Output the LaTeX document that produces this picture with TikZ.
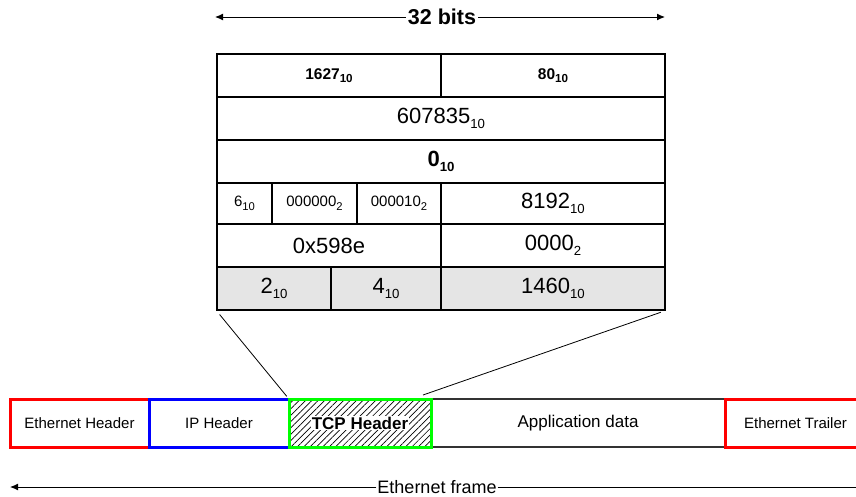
\documentclass[tikz,border=0pt]{standalone}
\usepackage{fontspec}
\setmainfont{Liberation Sans}
\usetikzlibrary{arrows.meta,patterns.meta}
\newcommand{\lo}[2][0.6]{\raisebox{-0.45ex}{\scalebox{#1}{#2}}}

\begin{document}
\begin{tikzpicture}[x=1pt, y=-1pt, >={Latex[length=8pt,width=7pt]},
cell/.style={draw, line width=1.2pt, inner sep=0pt, minimum height=43pt, font=\fontsize{22}{24}\selectfont},
small/.style={font=\fontsize{15}{17}\selectfont},
shade/.style={fill=gray!20},
layer/.style={draw, line width=3pt, inner sep=0pt, minimum height=48pt, font=\fontsize{15}{17}\selectfont},
link/.style={line width=0.8pt},
span/.style={->, line width=1pt}]
\useasboundingbox (0,0) rectangle (856,496);
\clip (0,0) rectangle (856,496);

\node[font=\bfseries\fontsize{21.5}{24}\selectfont, fill=white, inner sep=2pt] (bits) at (442,17) {32 bits};
\coordinate (bitsL) at (215,17);
\coordinate (bitsR) at (665,17);
\draw[span] (bits) -- (bitsL);
\draw[span] (bits) -- (bitsR);

\node[cell, minimum width=224pt, font=\bfseries\fontsize{15.5}{17}\selectfont] (srcport) at (329,75.5) {1627\lo[0.75]{10}};
\node[cell, minimum width=224pt, font=\bfseries\fontsize{15.5}{17}\selectfont] (dstport) at (553,75.5) {80\lo[0.75]{10}};
\node[cell, minimum width=448pt] (seqnum) at (441,118.5) {607835\lo{10}};
\node[cell, minimum width=448pt, font=\bfseries\fontsize{22}{24}\selectfont] (acknum) at (441,161.5) {0\lo{10}};
\node[cell, minimum width=55pt, minimum height=41pt, small] (offset) at (244.5,203.5) {6\lo[0.75]{10}};
\node[cell, minimum width=85pt, minimum height=41pt, small] (resvd) at (314.5,203.5) {000000\lo[0.75]{2}};
\node[cell, minimum width=84pt, minimum height=41pt, small] (flags) at (399,203.5) {000010\lo[0.75]{2}};
\node[cell, minimum width=224pt, minimum height=41pt] (window) at (553,203.5) {8192\lo{10}};
\node[cell, minimum width=224pt] (chksum) at (329,245.5) {0x598e};
\node[cell, minimum width=224pt] (urgptr) at (553,245.5) {0000\lo{2}};
\node[cell, shade, minimum width=114pt] (optkind) at (274,288.5) {2\lo{10}};
\node[cell, shade, minimum width=110pt] (optlen) at (386,288.5) {4\lo{10}};
\node[cell, shade, minimum width=224pt] (mss) at (553,288.5) {1460\lo{10}};

\node[draw=black!80, line width=1.2pt, inner sep=0pt, minimum width=294pt, minimum height=48pt, font=\fontsize{17}{19}\selectfont] (app) at (578,423) {Application data};
\node[layer, draw=red, minimum width=139pt] (ethh) at (79.5,423) {Ethernet Header};
\node[layer, draw=blue, minimum width=140pt] (iph) at (219,423) {IP Header};
\node[layer, draw=green, minimum width=142pt, pattern={Lines[angle=45,distance=4.5pt,line width=0.7pt]}] (tcph) at (360,423) {};
\node[fill=white, inner sep=1pt, font=\bfseries\fontsize{17}{19}\selectfont] (tcplbl) at (tcph) {TCP Header};
\node[layer, draw=red, minimum width=141pt] (etht) at (795.5,423) {Ethernet Trailer};

\coordinate (tcpR) at (423,395);
\draw[link, shorten <=5pt, shorten >=3pt] (optkind.south west) -- (tcph.north west);
\draw[link, shorten <=5pt] (mss.south east) -- (tcpR);

\node[font=\fontsize{18}{20}\selectfont, fill=white, inner sep=1pt] (frame) at (437,487) {Ethernet frame};
\coordinate (frameL) at (10,487);
\coordinate (frameR) at (866,487);
\draw[span] (frame) -- (frameL);
\draw[span] (frame) -- (frameR);
\end{tikzpicture}
\end{document}
